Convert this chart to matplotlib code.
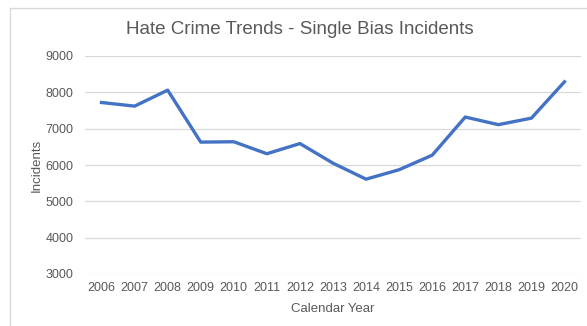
import matplotlib
matplotlib.use("Agg")
import matplotlib.pyplot as plt
from matplotlib.patches import Rectangle

years = ["2006", "2007", "2008", "2009", "2010", "2011", "2012", "2013",
         "2014", "2015", "2016", "2017", "2018", "2019", "2020"]
incidents = [7720, 7620, 8060, 6630, 6640, 6310, 6590, 6050,
             5610, 5870, 6270, 7320, 7110, 7290, 8290]
yticks = [3000, 4000, 5000, 6000, 7000, 8000, 9000]

W, H = 587, 326
plt.rcParams['font.family'] = ['Liberation Sans', 'DejaVu Sans']
fig = plt.figure(figsize=(W / 100, H / 100), dpi=100)

# outer chart border (light grey, runs off right/bottom)
fig.patches.append(Rectangle((10 / W, -0.1), 1.0, 1 - 8 / H + 0.1,
                             transform=fig.transFigure, fill=False,
                             edgecolor="#d9d9d9", linewidth=1.0))

ax = fig.add_axes([85 / W, 1 - 274 / H, (581 - 85) / W, (274 - 56) / H])
x = list(range(len(years)))
ax.plot(x, incidents, color="#4472C4", linewidth=2.4, solid_joinstyle="round")

ax.set_xlim(-0.5, len(years) - 0.5)
ax.set_ylim(3000, 9000)
ax.set_yticks(yticks)
ax.set_xticks(x)
ax.set_xticklabels(years)
ax.grid(axis="y", color="#d9d9d9", linewidth=0.9)
ax.set_axisbelow(True)
for s in ax.spines.values():
    s.set_visible(False)
ax.tick_params(length=0, colors="#595959", labelsize=9, pad=6)
ax.tick_params(axis="y", pad=8.5)

ax.set_ylabel("Incidents", color="#595959", fontsize=9.5, labelpad=2)
ax.set_xlabel("Calendar Year", color="#595959", fontsize=9.5, labelpad=6)
fig.text(300 / W, 1 - 30 / H, "Hate Crime Trends - Single Bias Incidents",
         ha="center", va="center", color="#595959", fontsize=13.5)

fig.savefig("out.png", dpi=100)
